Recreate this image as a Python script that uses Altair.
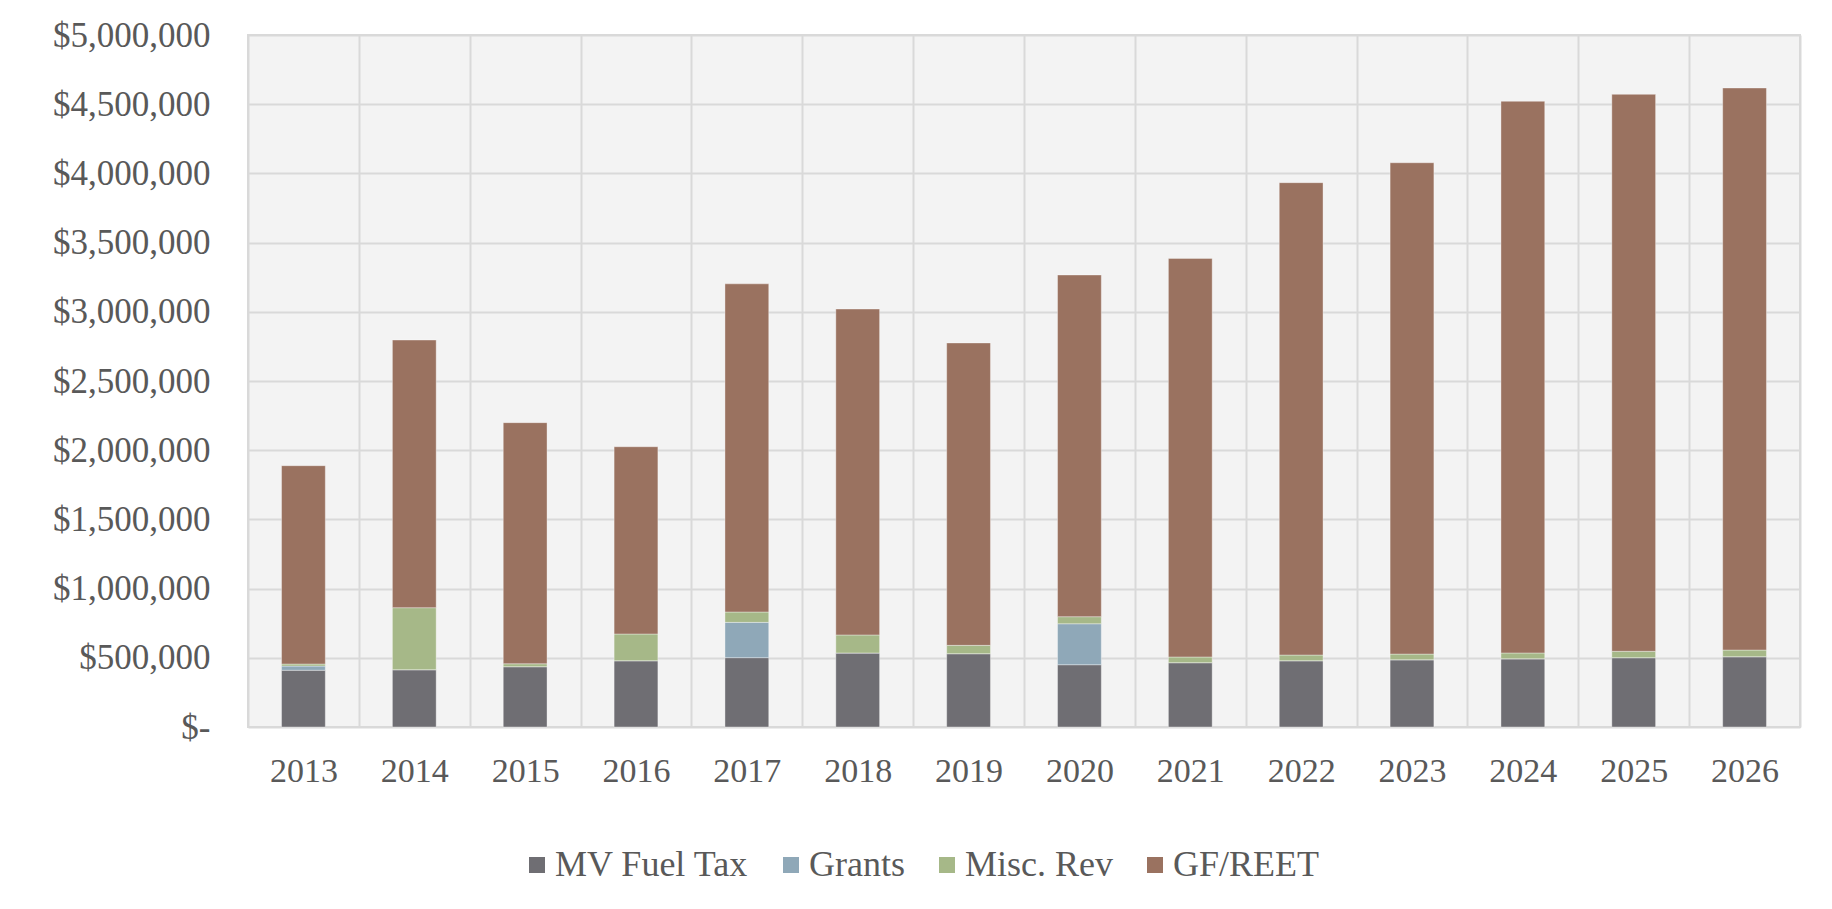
import altair as alt
import pandas as pd

years = [str(y) for y in range(2013, 2027)]
series = ["MV Fuel Tax", "Grants", "Misc. Rev", "GF/REET"]
colors = ["#6f6e73", "#8fa8b8", "#a6b888", "#9a7260"]

mv_fuel_tax = [410000, 414000, 436000, 479000, 501000, 535000, 530000, 450000, 465000, 479000, 486000, 493000, 501000, 508000]
grants      = [30000, 0, 0, 0, 255000, 0, 0, 296000, 0, 0, 0, 0, 0, 0]
misc_rev    = [15000, 448000, 21000, 193000, 75000, 130000, 60000, 51000, 41000, 41000, 41000, 42000, 46000, 48000]
gf_reet     = [1433000, 1934000, 1742000, 1353000, 2371000, 2355000, 2185000, 2469000, 2880000, 3413000, 3550000, 3986000, 4024000, 4061000]

rows = []
for i, y in enumerate(years):
    for k, (name, vals) in enumerate(zip(series, [mv_fuel_tax, grants, misc_rev, gf_reet])):
        rows.append({"Year": y, "Source": name, "Amount": vals[i], "order": k})
df = pd.DataFrame(rows)

FONT = "Liberation Serif"
TXT = "#595959"
GRID = "#d9d9d9"

chart = alt.Chart(df).mark_bar(
    width=alt.RelativeBandSize(0.395),
    stroke="#ffffff", strokeWidth=0.6, strokeOpacity=0.6,
).encode(
    x=alt.X("Year:N", title=None, sort=years,
            scale=alt.Scale(paddingInner=0, paddingOuter=0),
            axis=alt.Axis(labelAngle=0, labelFont=FONT, labelFontSize=34, labelColor=TXT,
                          ticks=False, domain=False, grid=True, gridColor=GRID, gridWidth=2,
                          tickBand="extent", labelPadding=27)),
    y=alt.Y("Amount:Q", title=None, stack="zero",
            scale=alt.Scale(domain=[0, 5000000], nice=False),
            axis=alt.Axis(values=[i * 500000 for i in range(11)],
                          labelExpr="datum.value == 0 ? '$-\u00a0\u00a0' : '$' + format(datum.value, ',')",
                          labelFont=FONT, labelFontSize=35, labelColor=TXT,
                          ticks=False, domain=False, grid=True, gridColor=GRID, gridWidth=2,
                          labelPadding=38)),
    color=alt.Color("Source:N", sort=series,
                    scale=alt.Scale(domain=series, range=colors),
                    legend=alt.Legend(title=None, orient="none", direction="horizontal",
                                      legendX=271, legendY=812,
                                      symbolType="square", symbolSize=256, symbolStrokeWidth=0,
                                      labelFont=FONT, labelFontSize=36, labelColor=TXT,
                                      labelOffset=0, columnPadding=24, labelLimit=400)),
    order=alt.Order("order:Q", sort="ascending"),
).properties(
    width=1552, height=692,
    autosize=alt.AutoSizeParams(type="none"),
    padding={"left": 240, "top": 27, "right": 24, "bottom": 170},
    view=alt.ViewBackground(fill="#f3f3f3", stroke=GRID, strokeWidth=2),
).configure(background="#ffffff")

chart.save("out.html", embed_options={"renderer": "svg", "actions": False})
